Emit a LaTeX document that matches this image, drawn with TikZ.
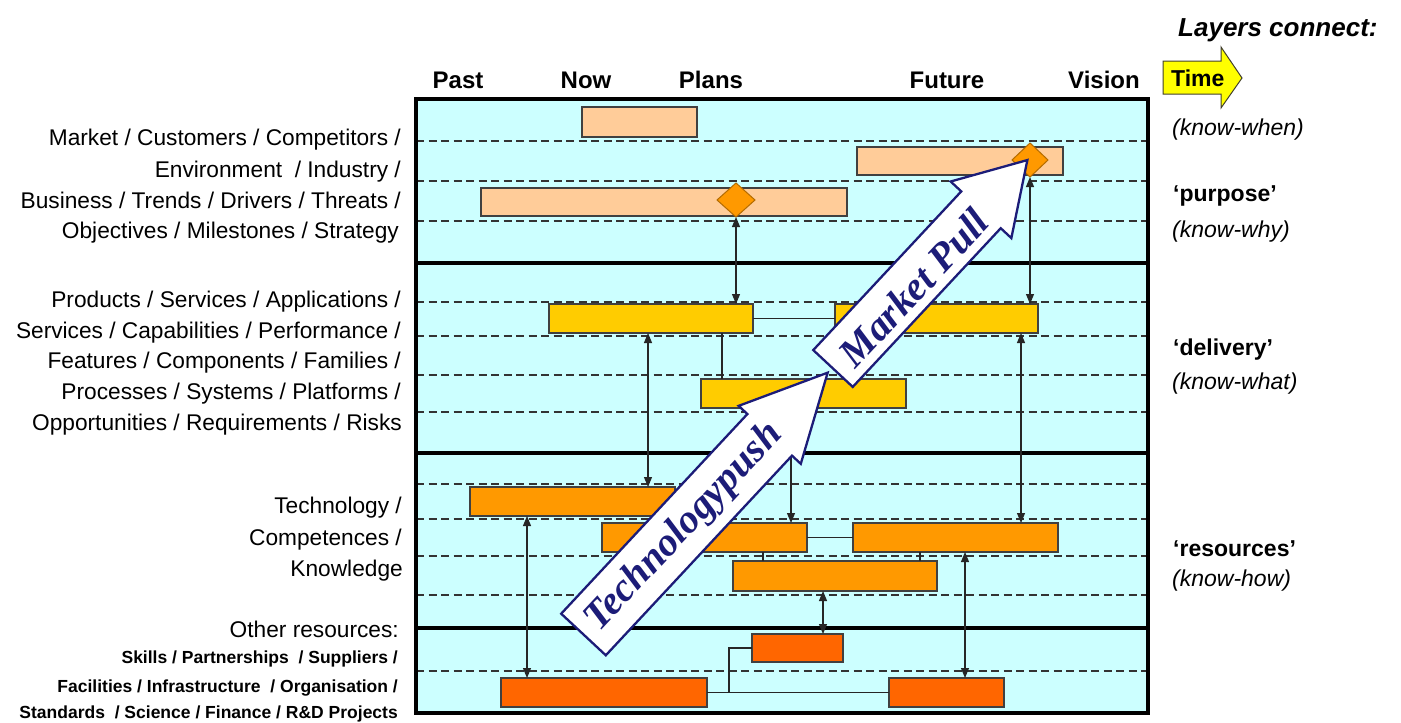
\documentclass[tikz,border=0pt]{standalone}
\usepackage{fontspec}
\setmainfont{Liberation Sans}
\newfontfamily\arrowfont{Liberation Serif}
\usetikzlibrary{shapes.geometric,arrows.meta}
\definecolor{bgcyan}{HTML}{CCFFFF}
\definecolor{peach}{HTML}{FFCC99}
\definecolor{gold}{HTML}{FFCC00}
\definecolor{orng}{HTML}{FF9900}
\definecolor{dorng}{HTML}{FF6600}
\definecolor{dmdedge}{HTML}{B36B00}
\definecolor{navy}{RGB}{28,28,120}
\definecolor{timeyellow}{HTML}{FFFF00}
\begin{document}
\begin{tikzpicture}[x=1pt,y=-1pt,
  lbl/.style={font=\fontsize{22.7}{27}\selectfont, anchor=base east, inner sep=0pt},
  sml/.style={font=\bfseries\fontsize{17.5}{20}\selectfont, anchor=base east, inner sep=0pt},
  hdr/.style={font=\bfseries\fontsize{24}{28}\selectfont, anchor=base, inner sep=0pt},
  rlab/.style={font=\bfseries\fontsize{23}{27}\selectfont, anchor=base west, inner sep=0pt},
  rit/.style={font=\itshape\fontsize{23}{27}\selectfont, anchor=base west, inner sep=0pt},
  bar/.style={rectangle, draw=black!75, line width=1.1pt, inner sep=0pt, outer sep=0pt},
  barP/.style={bar, fill=peach},
  barG/.style={bar, fill=gold},
  barO/.style={bar, fill=orng},
  barD/.style={bar, fill=dorng},
  dmd/.style={diamond, draw=dmdedge, fill=orng, line width=1pt, inner sep=0pt, outer sep=0pt, minimum width=38pt, minimum height=34pt},
  conn/.style={draw=black!85, line width=1.1pt},
  dbl/.style={conn, {Triangle[length=10pt,width=8pt]}-{Triangle[length=10pt,width=8pt]}},
  dashln/.style={draw=black!80, line width=1.3pt, dash pattern=on 8pt off 4.5pt},
  layerln/.style={draw=black, line width=3.5pt},
  bigarrow/.style={draw=navy, fill=white, line width=2.3pt, line join=miter},
  bigtext/.style={font=\arrowfont\bfseries\itshape\fontsize{40}{44}\selectfont, text=navy, inner sep=0pt}
]
\useasboundingbox (0,0) rectangle (1401,723);
\fill[white] (0,0) rectangle (1401,723);

% main panel
\fill[bgcyan] (416,99) rectangle (1148,713);
\foreach \yy in {141,181,221,302,336,375,412,484,519,556,595,671}
  \draw[dashln] (416,\yy) -- (1148,\yy);
\foreach \yy in {263,453,628}
  \draw[layerln] (416,\yy) -- (1148,\yy);
\draw[black, line width=3.5pt] (416,99) rectangle (1148,713);

% helper x positions
\coordinate (x527) at (527,0);
\coordinate (x648) at (648,0);
\coordinate (x722) at (722,0);
\coordinate (x729) at (729,0);
\coordinate (x763) at (763,0);
\coordinate (x791) at (791,0);
\coordinate (x823) at (823,0);
\coordinate (x920) at (920,0);
\coordinate (x965) at (965,0);
\coordinate (x1021) at (1021,0);

% purpose bars
\node[barP, minimum width=115pt, minimum height=30pt] (p1) at (639.5,122) {};
\node[barP, minimum width=206pt, minimum height=28pt] (p2) at (960,161) {};
\node[barP, minimum width=366pt, minimum height=28pt] (p3) at (664,202) {};
\node[dmd] (dm1) at (736,200) {};
\node[dmd, minimum width=36pt] (dm2) at (1030,160) {};

% delivery bars
\node[barG, minimum width=204pt, minimum height=29pt] (dd1) at (651,318.5) {};
\node[barG, minimum width=203pt, minimum height=29pt] (dd2) at (936.5,318.5) {};
\node[barG, minimum width=205pt, minimum height=29pt] (dd3) at (803.5,393.5) {};

% resources bars
\node[barO, minimum width=205pt, minimum height=29pt] (r1) at (572.5,501.5) {};
\node[barO, minimum width=205pt, minimum height=29pt] (r2) at (704.5,537.5) {};
\node[barO, minimum width=205pt, minimum height=29pt] (r3) at (955.5,537.5) {};
\node[barO, minimum width=204pt, minimum height=30pt] (r4) at (835,576) {};

% other resources bars
\node[barD, minimum width=91pt, minimum height=28pt] (o1) at (797.5,648) {};
\node[barD, minimum width=206pt, minimum height=29pt] (o2) at (604,692.5) {};
\node[barD, minimum width=115pt, minimum height=29pt] (o3) at (946.5,692.5) {};

% plain connectors
\draw[conn] (dd1.east) -- (dd2.west);
\draw[conn] (dd1.south -| x722) -- (dd3.north -| x722);
\draw[conn] (r2.east) -- (r3.west);
\draw[conn] (r2.south -| x763) -- (r4.north -| x763);
\draw[conn] (r3.south -| x920) -- (r4.north -| x920);
\draw[conn] (o2.east) -- (o3.west);
\draw[conn] (o1.west) -| (x729 |- o2.east);

% double arrows
\draw[dbl] (dm1.south) -- (dd1.north -| dm1.south);
\draw[dbl] (dm2.south) -- (dd2.north -| dm2.south);
\draw[dbl] (dd1.south -| x648) -- (r1.north -| x648);
\draw[dbl] (dd3.south -| x791) -- (r2.north -| x791);
\draw[dbl] (dd2.south -| x1021) -- (r3.north -| x1021);
\draw[dbl] (r1.south -| x527) -- (o2.north -| x527);
\draw[dbl] (r4.south -| x823) -- (o1.north -| x823);
\draw[dbl] (r3.south -| x965) -- (o3.north -| x965);

% big arrows
\begin{scope}[shift={(583.5,634.5)}, rotate=47]
  \draw[bigarrow] (0,-30.5) -- (273,-30.5) -- (273,-42.5) -- (358,0) -- (273,42.5) -- (273,30.5) -- (0,30.5) -- cycle;
  \node[bigtext, rotate=47] (tpush) at (147,1) {Technologypush};
\end{scope}
\begin{scope}[shift={(833,368.5)}, rotate=47]
  \draw[bigarrow] (0,-27) -- (217,-27) -- (217,-41.5) -- (285,0) -- (217,41.5) -- (217,27) -- (0,27) -- cycle;
  \node[bigtext, rotate=47] (mpull) at (114,4) {Market Pull};
\end{scope}

% column headers
\node[hdr] (past) at (458,88) {Past};
\node[hdr] (now) at (586,88) {Now};
\node[hdr] (plans) at (711,88) {Plans};
\node[hdr] (future) at (947,88) {Future};
\node[hdr] (vision) at (1104,88) {Vision};

% time arrow
\draw[draw=black!70!olive, fill=timeyellow, line width=1pt]
  (1163,61) -- (1221,61) -- (1221,47) -- (1242,78) -- (1221,108) -- (1221,94) -- (1163,94) -- cycle;
\node[font=\bfseries\fontsize{23}{27}\selectfont, anchor=base west, inner sep=0pt] (time) at (1171,86) {Time};

% right labels
\node[font=\bfseries\itshape\fontsize{26}{30}\selectfont, anchor=base west, inner sep=0pt] (layers) at (1178,36) {Layers connect:};
\node[rit] (kwhen) at (1172,135) {(know-when)};
\node[rlab] (purpose) at (1173,201) {‘purpose’};
\node[rit] (kwhy) at (1172,237) {(know-why)};
\node[rlab] (delivery) at (1173,355) {‘delivery’};
\node[rit] (kwhat) at (1172,389) {(know-what)};
\node[rlab] (resources) at (1173,556) {‘resources’};
\node[rit] (khow) at (1172,586) {(know-how)};

% left labels
\node[lbl] (l1) at (401,145) {Market / Customers / Competitors /};
\node[lbl] (l2) at (401,177) {Environment\ \ / Industry /};
\node[lbl] (l3) at (401,208) {Business / Trends / Drivers / Threats /};
\node[lbl] (l4) at (399,238) {Objectives / Milestones / Strategy};
\node[lbl] (l5) at (401,307) {Products / Services / Applications /};
\node[lbl] (l6) at (401,338) {Services / Capabilities / Performance /};
\node[lbl] (l7) at (401,368) {Features / Components / Families /};
\node[lbl] (l8) at (401,399) {Processes / Systems / Platforms /};
\node[lbl] (l9) at (402,430) {Opportunities / Requirements / Risks};
\node[lbl] (l10) at (402,513) {Technology /};
\node[lbl] (l11) at (402,545) {Competences /};
\node[lbl] (l12) at (403,576) {Knowledge};
\node[lbl] (l13) at (399,637) {Other resources:};
\node[sml] (l14) at (398,663) {Skills / Partnerships\ \ / Suppliers /};
\node[sml] (l15) at (398,692) {Facilities / Infrastructure\ \ / Organisation /};
\node[sml] (l16) at (398,718) {Standards\ \ / Science / Finance / R\&D Projects};
\end{tikzpicture}
\end{document}
